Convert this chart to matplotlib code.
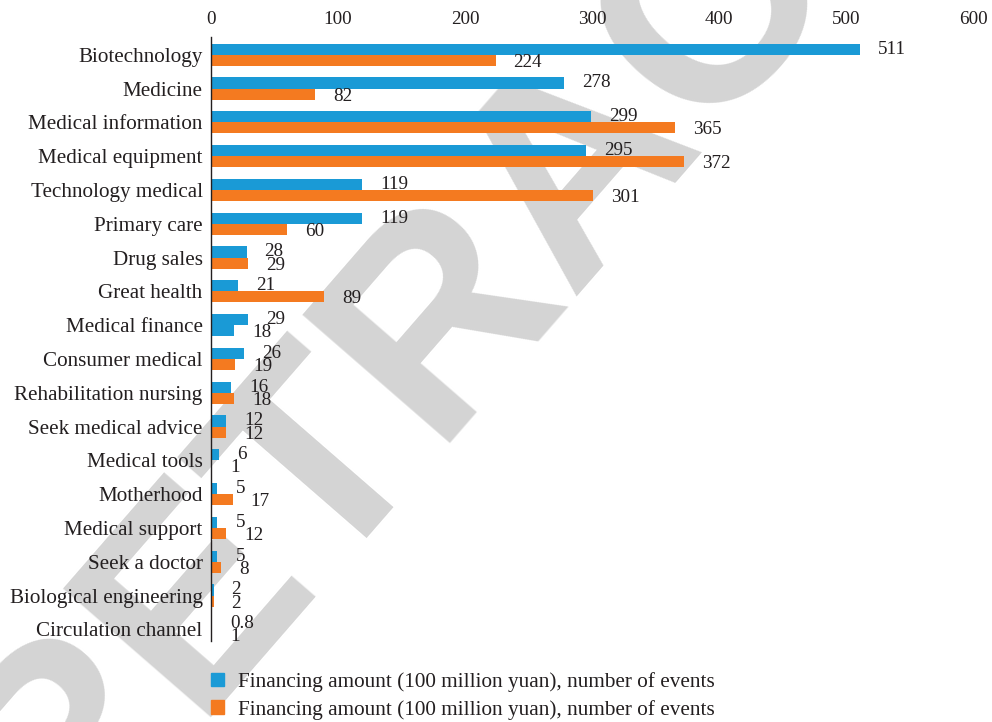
import matplotlib
matplotlib.use("Agg")
import matplotlib.pyplot as plt
from matplotlib.patches import Patch
import numpy as np

categories = ["Biotechnology", "Medicine", "Medical information", "Medical equipment",
              "Technology medical", "Primary care", "Drug sales", "Great health",
              "Medical finance", "Consumer medical", "Rehabilitation nursing",
              "Seek medical advice", "Medical tools", "Motherhood", "Medical support",
              "Seek a doctor", "Biological engineering", "Circulation channel"]
amount = [511, 278, 299, 295, 119, 119, 28, 21, 29, 26, 16, 12, 6, 5, 5, 5, 2, 0.8]
events = [224, 82, 365, 372, 301, 60, 29, 89, 18, 19, 18, 12, 1, 17, 12, 8, 2, 1]
amount_labels = ["511", "278", "299", "295", "119", "119", "28", "21", "29", "26",
                 "16", "12", "6", "5", "5", "5", "2", "0.8"]
events_labels = ["224", "82", "365", "372", "301", "60", "29", "89", "18", "19",
                 "18", "12", "1", "17", "12", "8", "2", "1"]
legend_label = "Financing amount (100 million yuan), number of events"

BLUE = "#1a9ad6"
ORANGE = "#f47a20"
TEXT = "#231f20"
# the second bar of "Medical finance" is blue in the original
events_colors = [ORANGE] * len(categories)
events_colors[categories.index("Medical finance")] = BLUE

plt.rcParams["font.family"] = ["Liberation Serif", "DejaVu Serif"]

fig = plt.figure(figsize=(9.92, 7.22), dpi=100)
ax = fig.add_axes([0.2127, 0.1115, 0.7683, 0.8375])
ax.set_zorder(1)
ax.patch.set_alpha(0)

# watermark
fig.text(0.583, 0.777, "RETRACTED", fontsize=205, color="#d4d4d4",
         family="Liberation Sans", weight="bold", rotation=49,
         rotation_mode="anchor", ha="center", va="center", zorder=0.5)

y = np.arange(len(categories))
h = 0.33
ax.barh(y - h / 2, amount, height=h, color=BLUE)
ax.barh(y + h / 2, events, height=h, color=events_colors)

for i in range(len(categories)):
    ax.annotate(amount_labels[i], (amount[i], y[i] - h / 2), xytext=(13, 0),
                textcoords="offset points", va="center", fontsize=13.8, color=TEXT)
    ax.annotate(events_labels[i], (events[i], y[i] + h / 2), xytext=(13, -1.5),
                textcoords="offset points", va="center", fontsize=13.8, color=TEXT)

ax.set_xlim(0, 600)
ax.set_ylim(len(categories) - 1 + 0.36, -0.53)
ax.set_xticks([0, 100, 200, 300, 400, 500, 600])
ax.xaxis.tick_top()
ax.tick_params(axis="x", length=0, pad=6, labelsize=13.8, labelcolor=TEXT)
ax.set_yticks(y)
ax.set_yticklabels(categories)
ax.tick_params(axis="y", length=0, pad=6, labelsize=15.2, labelcolor=TEXT)
for s in ["top", "right", "bottom"]:
    ax.spines[s].set_visible(False)
ax.spines["left"].set_color(TEXT)
ax.spines["left"].set_linewidth(1.0)

handles = [Patch(color=BLUE), Patch(color=ORANGE)]
fig.legend(handles, [legend_label, legend_label], loc="upper left",
           bbox_to_anchor=(0.2127, 0.069), frameon=False, fontsize=15.3,
           handlelength=0.62, handleheight=0.62, handletextpad=0.67,
           labelspacing=0.36, borderaxespad=0, borderpad=0, labelcolor=TEXT)

fig.savefig("out.png", dpi=100)
